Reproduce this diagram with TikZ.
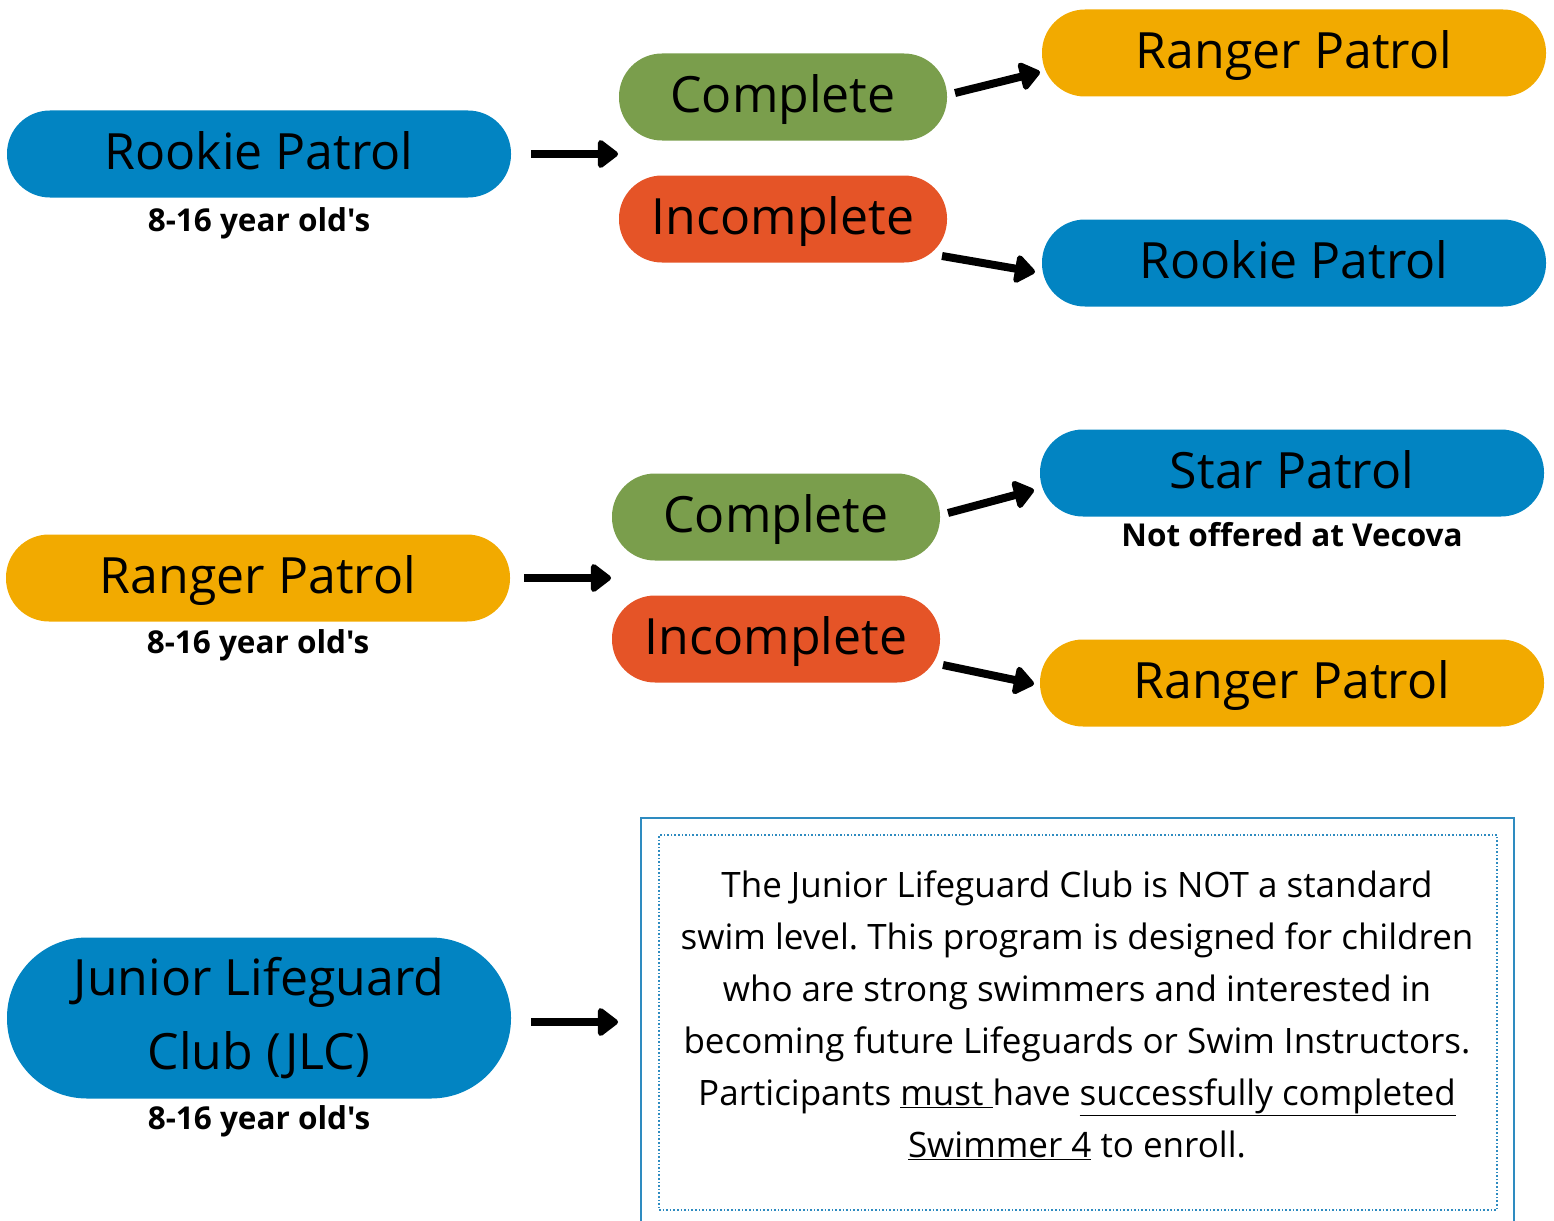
\documentclass[tikz,border=0pt]{standalone}
\usepackage{fontspec}
\setmainfont{Open Sans}
\newfontfamily\labelfont{Open Sans}
\usetikzlibrary{arrows.meta,calc}
\frenchspacing
\definecolor{pblue}{HTML}{0284C2}
\definecolor{pgreen}{HTML}{7A9E4C}
\definecolor{porange}{HTML}{E55427}
\definecolor{pyellow}{HTML}{F2AA00}
\definecolor{boxblue}{HTML}{2E8BC0}
\begin{document}
\begin{tikzpicture}[x=1pt,y=-1pt,
  pill/.style={rectangle, rounded corners=43pt, minimum width=504pt, minimum height=87pt, inner sep=0pt, font=\fontsize{50}{60}\selectfont, text=black, text height=35.7pt, text depth=4pt},
  midpill/.style={pill, minimum width=328pt},
  sublabel/.style={font=\labelfont\bfseries\fontsize{31.5}{36}\selectfont, inner sep=0pt},
  flow/.style={line width=8pt, -{Triangle[length=22pt,width=32pt,round]}},
]
\useasboundingbox (0,0) rectangle (1554,1220);

% ---- Section 1
\node[pill, fill=pblue] (rp1) at (259,154) {Rookie Patrol};
\node[sublabel] (age1) at (259,223) {8-16 year old's};
\node[midpill, fill=pgreen] (c1) at (783,97) {Complete};
\node[midpill, fill=porange] (i1) at (783,219) {Incomplete};
\node[pill, fill=pyellow] (rg1) at (1294,53) {Ranger Patrol};
\node[pill, fill=pblue] (rk1) at (1294,263) {Rookie Patrol};
\coordinate (s1a) at (531,154);
\coordinate (t1a) at (618,154);
\coordinate (s1b) at (955,93);
\coordinate (t1b) at (1040,72);
\coordinate (s1c) at (942,256);
\coordinate (t1c) at (1035,272);
\draw[flow] (s1a) -- (t1a);
\draw[flow] (s1b) -- (t1b);
\draw[flow] (s1c) -- (t1c);

% ---- Section 2
\node[pill, fill=pyellow] (rg2) at (258,578) {Ranger Patrol};
\node[sublabel] (age2) at (258,645) {8-16 year old's};
\node[midpill, fill=pgreen] (c2) at (776,517) {Complete};
\node[midpill, fill=porange] (i2) at (776,639) {Incomplete};
\node[pill, fill=pblue] (st2) at (1292,473) {Star Patrol};
\node[sublabel] (nov) at (1292,535) {Not offered at Vecova};
\node[pill, fill=pyellow] (rg2b) at (1292,683) {Ranger Patrol};
\coordinate (s2a) at (524,578);
\coordinate (t2a) at (611,578);
\coordinate (s2b) at (948,513);
\coordinate (t2b) at (1034,490);
\coordinate (s2c) at (943,665);
\coordinate (t2c) at (1034,684);
\draw[flow] (s2a) -- (t2a);
\draw[flow] (s2b) -- (t2b);
\draw[flow] (s2c) -- (t2c);

% ---- Section 3
\node[rectangle, rounded corners=80pt, minimum width=504pt, minimum height=161pt, inner sep=0pt, fill=pblue, align=center, font=\fontsize{50}{74}\selectfont] (jlc) at (259,1018) {Junior Lifeguard\\Club (JLC)};
\node[sublabel] (age3) at (259,1121) {8-16 year old's};
\draw[boxblue, line width=2pt] (641,1222) -- (641,818) -- (1514,818) -- (1514,1222);
\node[draw=boxblue, dotted, line width=1.6pt, minimum width=838pt, minimum height=375pt, inner sep=0pt] (info) at (1078,1022.5) {};
\node[align=center, inner sep=0pt, font=\fontsize{35}{52}\selectfont] (infotext) at (1077,1015)
  {The Junior Lifeguard Club is NOT a standard\\
   swim level. This program is designed for children\\
   who are strong swimmers and interested in\\
   becoming future Lifeguards or Swim Instructors.\\
   Participants \underline{must\ }have \underline{successfully completed}\\
   \underline{Swimmer 4} to enroll.};
\coordinate (s3a) at (531,1022);
\coordinate (t3a) at (618,1022);
\draw[flow] (s3a) -- (t3a);
\end{tikzpicture}
\end{document}
